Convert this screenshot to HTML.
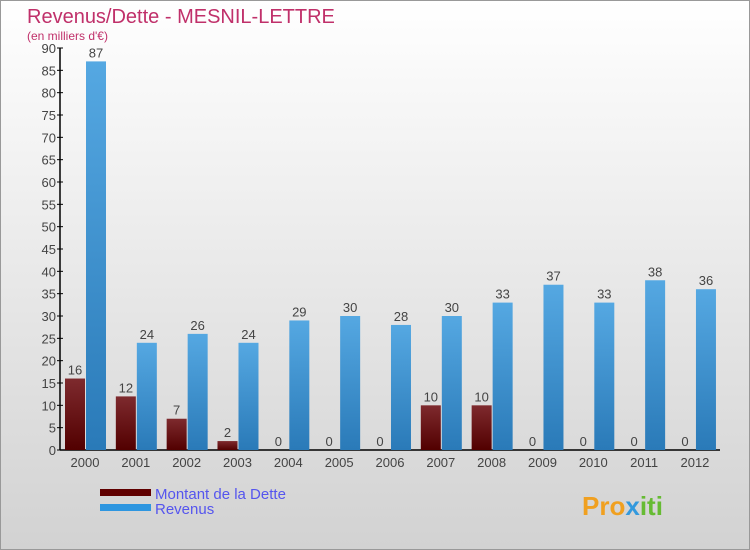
<!DOCTYPE html>
<html><head><meta charset="utf-8"><style>
body{margin:0}
#c{position:relative;width:750px;height:550px;overflow:hidden;font-family:"Liberation Sans",sans-serif}
</style></head><body>
<div id="c">
<svg id="s" width="750" height="550" xmlns="http://www.w3.org/2000/svg">
<defs>
<linearGradient id="bg" x1="0" y1="0" x2="0" y2="1"><stop offset="0" stop-color="#ffffff"/><stop offset="1" stop-color="#d2d2d2"/></linearGradient>
<linearGradient id="gd" x1="0" y1="0" x2="0" y2="1"><stop offset="0" stop-color="#7e2a2e"/><stop offset="1" stop-color="#520000"/></linearGradient>
<linearGradient id="gr" x1="0" y1="0" x2="0" y2="1"><stop offset="0" stop-color="#55a8e2"/><stop offset="1" stop-color="#2a7ab8"/></linearGradient>
</defs>
<rect x="0.5" y="0.5" width="749" height="549" fill="url(#bg)" stroke="#999"/>
<text x="27" y="23" font-size="20" fill="#c0306a">Revenus/Dette - MESNIL-LETTRE</text>
<text x="27" y="40" font-size="12" fill="#c0306a">(en milliers d'€)</text>
<g id="axes"></g>
<g id="bars"></g>
<rect x="100" y="489" width="51" height="7" fill="#600000"/>
<text x="155" y="499" font-size="15" fill="#5555ee">Montant de la Dette</text>
<rect x="100" y="504" width="51" height="7" fill="#2e96e0"/>
<text x="155" y="514" font-size="15" fill="#5555ee">Revenus</text>
<text x="582" y="515" font-size="26" font-weight="bold" fill="#f0a020">Pro<tspan fill="#3399dd">x</tspan><tspan fill="#66bb33">iti</tspan></text>
</svg>
</div>
<script>
const categories=["2000","2001","2002","2003","2004","2005","2006","2007","2008","2009","2010","2011","2012"];
const debtValues=[16,12,7,2,0,0,0,10,10,0,0,0,0];
const revenueValues=[87,24,26,24,29,30,28,30,33,37,33,38,36];
const yTicks=[0,5,10,15,20,25,30,35,40,45,50,55,60,65,70,75,80,85,90];
const NS="http://www.w3.org/2000/svg";
const y0=450,yTop=48,yMax=90,xStart=85,step=50.83,bw=20;
function y(v){return y0-(y0-yTop)*v/yMax;}
function x(i){return xStart+step*i;}
function mk(t,a,p){const e=document.createElementNS(NS,t);for(const k in a)e.setAttribute(k,a[k]);p.appendChild(e);return e;}
const ax=document.getElementById('axes'),bars=document.getElementById('bars');
let l=mk('line',{x1:60,y1:y(90),x2:60,y2:y0,stroke:'#000','stroke-width':1.5},ax);


l=mk('line',{x1:60,y1:y0,x2:720,y2:y0,stroke:'#000','stroke-width':1.5},ax);


yTicks.forEach(v=>{
 const t=mk('line',{x1:57,y1:y(v),x2:63,y2:y(v),stroke:'#000'},ax);
 
 
 const tx=mk('text',{x:56,y:y(v)+5,'font-size':13,'text-anchor':'end',fill:'#444'},ax);
 tx.textContent=v;
 
 
});
categories.forEach((c,i)=>{
 const cx=x(i);
 const tx=mk('text',{x:cx,y:467,'font-size':13,'text-anchor':'middle',fill:'#444'},ax);
 tx.textContent=c;
 
 
 const d=debtValues[i],r=revenueValues[i];
 const bd=mk('rect',{x:cx-bw,y:y(d),width:bw,height:y0-y(d),fill:'url(#gd)'},bars);
 
 
 const br=mk('rect',{x:cx+1,y:y(r),width:bw,height:y0-y(r),fill:'url(#gr)'},bars);
 
 
 const ld=mk('text',{x:cx-bw/2,y:y(d)-4,'font-size':13,'text-anchor':'middle',fill:'#444'},bars);
 ld.textContent=d;
 
 
 const lr=mk('text',{x:cx+1+bw/2,y:y(r)-4,'font-size':13,'text-anchor':'middle',fill:'#444'},bars);
 lr.textContent=r;
 
 
});
</script>
</body></html>
